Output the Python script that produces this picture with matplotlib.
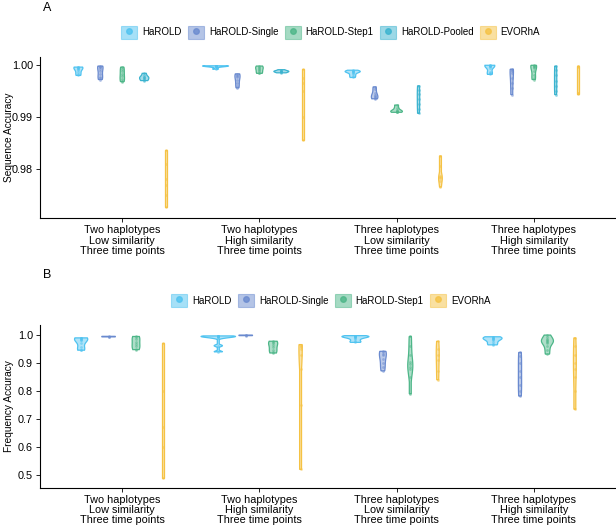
import numpy as np
import matplotlib
matplotlib.use("Agg")
import matplotlib.pyplot as plt
from matplotlib.patches import Patch
from matplotlib.lines import Line2D

plt.rcParams["font.family"] = ["Liberation Sans", "DejaVu Sans"]

GRUPOS = [
    "Two haplotypes\nLow similarity\nThree time points",
    "Two haplotypes\nHigh similarity\nThree time points",
    "Three haplotypes\nLow similarity\nThree time points",
    "Three haplotypes\nHigh similarity\nThree time points",
]

METODOS_A = ["HaROLD", "HaROLD-Single", "HaROLD-Step1", "HaROLD-Pooled", "EVORhA"]
METODOS_B = ["HaROLD", "HaROLD-Single", "HaROLD-Step1", "EVORhA"]

CORES = {
    "HaROLD": "#4FC3F0",
    "HaROLD-Single": "#6A8ACF",
    "HaROLD-Step1": "#4DB688",
    "HaROLD-Pooled": "#3AB3CF",
    "EVORhA": "#F5C244",
}

# Painel A - acurácia de sequência (um vetor por cenário)
SEQ_HAROLD = [
    [0.9996, 0.9996, 0.9995, 0.9994, 0.9993, 0.9990, 0.9986, 0.9982, 0.9980],
    [0.99985, 0.99984, 0.99983, 0.99982, 0.99981, 0.9998, 0.99978, 0.99965, 0.9992],
    [0.9990, 0.9988, 0.99877, 0.99876, 0.99875, 0.9987, 0.9985, 0.9982, 0.9979, 0.9976],
    [0.99995, 0.99993, 0.9999, 0.9999, 0.99985, 0.9998, 0.9994, 0.9987, 0.9984, 0.9982],
]
SEQ_SINGLE = [
    [0.9998, 0.9997, 0.9996, 0.9993, 0.9988, 0.9982, 0.9977, 0.9975, 0.9972],
    [0.9983, 0.9981, 0.9979, 0.9977, 0.9972, 0.9966, 0.9960, 0.9956],
    [0.9958, 0.9953, 0.9946, 0.9942, 0.9940, 0.9938, 0.9936, 0.9935],
    [0.9992, 0.9991, 0.9989, 0.9985, 0.9975, 0.9965, 0.9955, 0.9943],
]
SEQ_STEP1 = [
    [0.9996, 0.9993, 0.9988, 0.9983, 0.9978, 0.9974, 0.9970, 0.9968],
    [0.9998, 0.9997, 0.9995, 0.9993, 0.9991, 0.9988, 0.9985, 0.9984],
    [0.9923, 0.9918, 0.9914, 0.9912, 0.9911, 0.9910, 0.9910, 0.9909],
    [0.99995, 0.9999, 0.9998, 0.9997, 0.9994, 0.9988, 0.9980, 0.9975, 0.9972],
]
SEQ_POOLED = [
    [0.9984, 0.9980, 0.9977, 0.9976, 0.9975, 0.9973, 0.9971, 0.9970],
    [0.9991, 0.9989, 0.9988, 0.9988, 0.9987, 0.9986, 0.9985],
    [0.9960, 0.9952, 0.9944, 0.9935, 0.9925, 0.9916, 0.9907],
    [0.9998, 0.9990, 0.9980, 0.9970, 0.9960, 0.9950, 0.9943],
]
SEQ_EVORHA = [
    [0.9837, 0.9810, 0.9780, 0.9770, 0.9750, 0.9726],
    [0.9993, 0.9975, 0.9965, 0.9950, 0.9900, 0.9856],
    [0.9825, 0.9805, 0.9786, 0.9784, 0.9782, 0.9776, 0.9765],
    [0.9999, 0.9998, 0.9997, 0.9947, 0.9946, 0.9945],
]

# Painel B - acurácia de frequência
FREQ_HAROLD = [
    [0.990, 0.989, 0.988, 0.986, 0.984, 0.981, 0.972, 0.958, 0.948, 0.946],
    [0.997, 0.996, 0.996, 0.995, 0.995, 0.994, 0.993, 0.990, 0.962, 0.940],
    [0.998, 0.996, 0.995, 0.995, 0.994, 0.993, 0.990, 0.985, 0.978, 0.974],
    [0.994, 0.992, 0.990, 0.989, 0.987, 0.985, 0.981, 0.975, 0.968, 0.965],
]
FREQ_SINGLE = [
    [0.9955, 0.9945, 0.9935],
    [1.0, 0.9990, 0.9980],
    [0.942, 0.938, 0.934, 0.928, 0.915, 0.900, 0.885, 0.872],
    [0.938, 0.925, 0.900, 0.870, 0.850, 0.820, 0.800, 0.782],
]
FREQ_STEP1 = [
    [0.995, 0.992, 0.985, 0.975, 0.968, 0.960, 0.952, 0.948],
    [0.978, 0.975, 0.972, 0.965, 0.957, 0.948, 0.940, 0.936],
    [0.995, 0.960, 0.930, 0.905, 0.895, 0.885, 0.878, 0.850, 0.790],
    [1.0, 0.992, 0.985, 0.982, 0.978, 0.975, 0.970, 0.962, 0.948, 0.932],
]
FREQ_EVORHA = [
    [0.970, 0.800, 0.670, 0.600, 0.490],
    [0.966, 0.962, 0.958, 0.950, 0.930, 0.880, 0.750, 0.520],
    [0.978, 0.950, 0.930, 0.910, 0.870, 0.840],
    [0.990, 0.960, 0.930, 0.900, 0.880, 0.850, 0.800, 0.735],
]


def densidade(vals, bw_min):
    vals = np.asarray(vals, dtype=float)
    n = len(vals)
    sd = vals.std(ddof=1)
    iqr = np.subtract(*np.percentile(vals, [75, 25]))
    lo = min(sd, iqr / 1.34) if iqr > 0 else sd
    bw = max(0.9 * lo * n ** -0.2, bw_min)
    grid = np.linspace(vals.min(), vals.max(), 200)
    z = (grid[:, None] - vals[None, :]) / bw
    dens = np.exp(-0.5 * z ** 2).sum(axis=1) / (n * bw * np.sqrt(2 * np.pi))
    return grid, dens


def painel(ax, metodos, dados, meia_larg_max, bw_min):
    n = len(metodos)
    passo = 0.8 / n
    curvas = [[densidade(v, bw_min) for v in serie] for serie in dados]
    dmax = max(d.max() for serie in curvas for _, d in serie)
    nmax = max(len(v) for serie in dados for v in serie)
    for j, (metodo, serie) in enumerate(zip(metodos, curvas)):
        cor = CORES[metodo]
        for i, (grid, dens) in enumerate(serie):
            vals = dados[j][i]
            x = i + 1 + (j - (n - 1) / 2) * passo
            hw = (dens / dmax) ** 0.75 * meia_larg_max * len(vals) / nmax
            hw = np.maximum(hw, 0.007)
            xs = np.concatenate([x - hw, (x + hw)[::-1]])
            ys = np.concatenate([grid, grid[::-1]])
            ax.fill(xs, ys, facecolor=cor, alpha=0.45, edgecolor="none")
            ax.fill(xs, ys, facecolor="none", edgecolor=cor, lw=0.9)
            ax.plot(np.full(len(vals), x), vals, "o",
                    color=cor, ms=2, alpha=0.5, mec="none")

    ax.set_xlim(0.4, 4.6)
    ax.set_xticks([1, 2, 3, 4])
    ax.set_xticklabels(GRUPOS, fontsize=7.8, linespacing=1.05)
    ax.spines["top"].set_visible(False)
    ax.spines["right"].set_visible(False)
    for s in ("left", "bottom"):
        ax.spines[s].set_linewidth(0.8)
    ax.tick_params(length=3, width=0.6, labelsize=7.8, pad=2)

    handles = [(Patch(facecolor=CORES[m], alpha=0.5, edgecolor=CORES[m], lw=0.8),
                Line2D([], [], marker="o", ls="", color=CORES[m], ms=4, alpha=0.8))
               for m in metodos]
    return handles


fig = plt.figure(figsize=(6.16, 5.27), dpi=100)

ax_a = fig.add_axes([40 / 616, 0.5858, 576 / 616, 0.3066])
h_a = painel(ax_a, METODOS_A, [SEQ_HAROLD, SEQ_SINGLE, SEQ_STEP1, SEQ_POOLED, SEQ_EVORHA],
             0.105, 0.00012)
ax_a.set_ylim(0.9705, 1.0016)
ax_a.set_yticks([0.98, 0.99, 1.00])
ax_a.set_yticklabels(["0.98", "0.99", "1.00"])
ax_a.set_ylabel("Sequence Accuracy", fontsize=7.3)
ax_a.yaxis.set_label_coords(-0.046, 0.5)

ax_b = fig.add_axes([40 / 616, 0.0746, 576 / 616, 0.3087])
h_b = painel(ax_b, METODOS_B, [FREQ_HAROLD, FREQ_SINGLE, FREQ_STEP1, FREQ_EVORHA],
             0.165, 0.003)
ax_b.set_ylim(0.4547, 1.036)
ax_b.set_yticks([0.5, 0.6, 0.7, 0.8, 0.9, 1.0])
ax_b.set_ylabel("Frequency Accuracy", fontsize=7.3)
ax_b.yaxis.set_label_coords(-0.046, 0.5)

for handles, metodos, y in ((h_a, METODOS_A, 0.939), (h_b, METODOS_B, 0.4294)):
    fig.legend(handles, metodos, loc="center", bbox_to_anchor=(0.537, y), ncol=len(metodos),
               frameon=False, fontsize=7, handlelength=1.65, handleheight=1.65,
               handletextpad=0.5, columnspacing=0.65, borderpad=0)

fig.text(43 / 616, 1 - 8 / 527, "A", fontsize=9, va="center")
fig.text(43 / 616, 1 - 275 / 527, "B", fontsize=9, va="center")

fig.savefig("out.png", dpi=100)
plt.close(fig)
